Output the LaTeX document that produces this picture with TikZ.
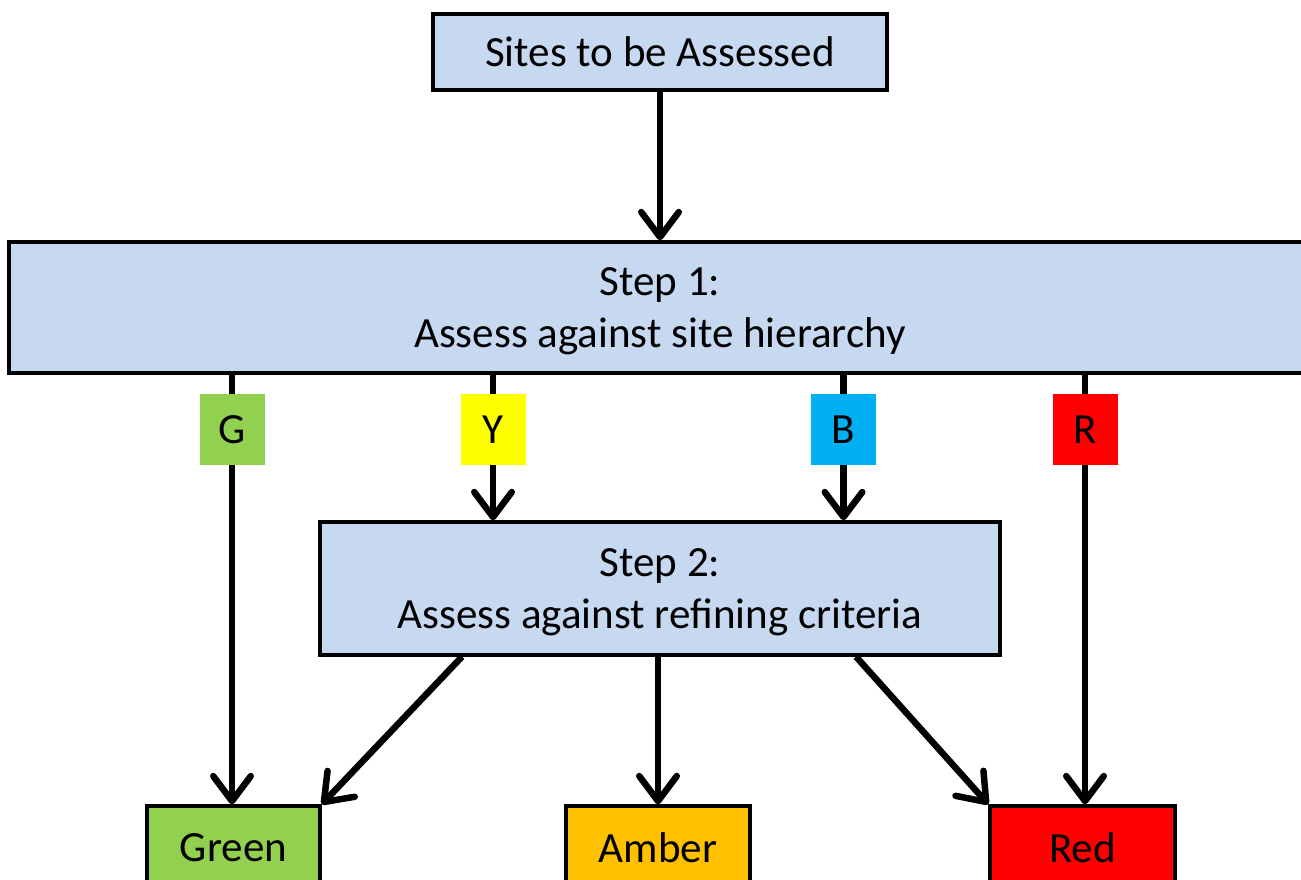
\documentclass[tikz,border=0pt]{standalone}
\usepackage{fontspec}
\setmainfont{Carlito}
\usetikzlibrary{arrows.meta}

\definecolor{boxblue}{HTML}{C6D9F1}
\definecolor{gcol}{HTML}{92D050}
\definecolor{ycol}{HTML}{FFFF00}
\definecolor{bcol}{HTML}{00B0F0}
\definecolor{rcol}{HTML}{FF0000}
\definecolor{acol}{HTML}{FFC000}

\tikzset{
    stepbox/.style = {draw, line width = 1.9pt, fill = boxblue, align = center, inner sep = 0pt, text depth = 0pt},
    tagbox/.style = {minimum width = 1.3cm, minimum height = 1.42cm, inner sep = 0pt},
    endbox/.style = {draw, line width = 1.9pt, minimum height = 1.68cm, inner sep = 0pt},
    arr/.style = {line width = 3.7pt, -{Straight Barb[length = .5cm, width = .75cm, round]}},
    stem/.style = {line width = 3.7pt}
}

\begin{document}
\begin{tikzpicture}[font = \fontsize{24.5}{29.5}\selectfont]
        \useasboundingbox (0, 0) rectangle (26.02, -17.58);
        \clip (0, 0) rectangle (26.02, -17.58);

        %%Top
        \node[draw, line width = 1.9pt, fill = boxblue, minimum width = 9.08cm, minimum height = 1.52cm, inner sep = 0pt](sites) at(13.2, -1.04){Sites to be Assessed};
        %%Step 1
        \node[stepbox, minimum width = 26.04cm, minimum height = 2.62cm](step1) at(13.2, -6.15){Step 1:\\Assess against site hierarchy};
            \draw[arr](sites.south) to (step1.north);

        %%Tags
        \node[tagbox, fill = gcol](g) at(4.64, -8.59){G};
        \node[tagbox, fill = ycol](y) at(9.86, -8.59){Y};
        \node[tagbox, fill = bcol](b) at(16.87, -8.59){B};
        \node[tagbox, fill = rcol](r) at(21.7, -8.59){R};

        %%Step 2
        \node[stepbox, minimum width = 13.6cm, minimum height = 2.66cm](step2) at(13.2, -11.77){Step 2:\\Assess against refining criteria};

        %%Results
        \node[endbox, fill = gcol, minimum width = 3.46cm](green) at(4.67, -16.96){Green};
        \node[endbox, fill = acol, minimum width = 3.68cm](amber) at(13.16, -16.96){Amber};
        \node[endbox, fill = rcol, minimum width = 3.7cm](red) at(21.65, -16.96){Red};

        %%Step 1 out
        \draw[stem](step1.south -| g) to (g.north);
        \draw[stem](step1.south -| y) to (y.north);
        \draw[stem](step1.south -| b) to (b.north);
        \draw[stem](step1.south -| r) to (r.north);
            \draw[arr](g.south) to (green.north -| g);
            \draw[arr](y.south) to (step2.north -| y);
            \draw[arr](b.south) to (step2.north -| b);
            \draw[arr](r.south) to (red.north -| r);

        %%Step 2 out
        \draw[arr]([xshift = -3.96cm]step2.south) to (green.north east);
        \draw[arr](step2.south -| amber) to (amber.north);
        \draw[arr]([xshift = 3.92cm]step2.south) to (red.north west);
\end{tikzpicture}
\end{document}
